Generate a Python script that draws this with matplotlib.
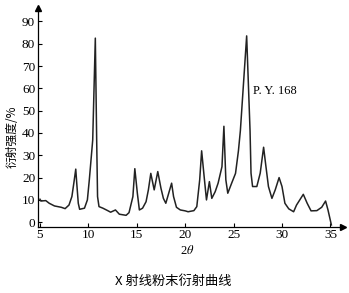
import matplotlib
matplotlib.use('Agg')
import matplotlib.pyplot as plt

# X-ray powder diffraction curve, P.Y. 168
two_theta = [5.0, 5.1, 5.6, 5.96, 6.5, 7.2, 7.6, 8.0, 8.3, 8.5, 8.7, 8.8, 8.96,
             9.1, 9.6, 9.9, 10.1, 10.45, 10.72, 10.86, 10.95, 11.1, 11.5, 12.0,
             12.3, 12.8, 13.2, 13.9, 14.2, 14.6, 14.8, 15.06, 15.27, 15.6, 15.96,
             16.2, 16.45, 16.8, 17.17, 17.5, 17.75, 18.0, 18.3, 18.6, 18.8, 19.1,
             19.5, 20.0, 20.3, 20.9, 21.2, 21.5, 21.7, 21.96, 22.2, 22.5, 22.75,
             23.1, 23.4, 23.8, 24.0, 24.2, 24.4, 24.8, 25.2, 25.5, 25.7, 26.35,
             26.7, 26.8, 26.96, 27.4, 27.75, 28.1, 28.3, 28.6, 28.96, 29.3, 29.7,
             30.0, 30.3, 30.7, 31.2, 31.5, 32.2, 32.6, 33.0, 33.6, 34.1, 34.5,
             34.75, 35.1]
intensity = [10.3, 9.5, 9.7, 8.5, 7.3, 6.7, 6.1, 7.7, 11.5, 17.5, 23.8, 17.6, 8.5,
             5.8, 6.3, 10.0, 19.0, 36.8, 82.5, 36.8, 11.5, 7.0, 6.3, 5.2,
             4.5, 5.5, 3.6, 3.1, 4.3, 11.5, 24.0, 13.0, 5.5, 6.3, 9.2,
             14.5, 21.9, 14.5, 22.7, 15.2, 10.7, 8.5, 13.0, 17.5, 11.5, 6.7,
             5.5, 5.1, 4.7, 5.2, 7.0, 19.0, 32.0, 20.4, 10.0, 18.2, 10.7,
             13.7, 17.5, 24.9, 43.0, 19.0, 13.0, 17.5, 21.9, 32.0, 41.0, 83.5,
             41.0, 22.0, 16.0, 16.0, 22.0, 33.6, 26.4, 16.0, 10.7, 14.5, 20.0,
             16.0, 8.5, 6.0, 4.7, 7.7, 12.5, 8.5, 5.1, 5.2, 6.7, 9.5,
             5.5, -1.2]

x_ticks = [5, 10, 15, 20, 25, 30, 35]
y_ticks = [0, 10, 20, 30, 40, 50, 60, 70, 80, 90]

plt.rcParams['mathtext.fontset'] = 'stix'
serif = 'Liberation Serif'
cjk = ['Noto Sans CJK SC', 'DejaVu Sans']

fig = plt.figure(figsize=(3.49, 2.93), dpi=100)
ax = fig.add_axes([38 / 349, 1 - 226.7 / 293, (343 - 38) / 349, (226.7 - 8) / 293])

ax.plot(two_theta, intensity, color='#222222', lw=1.1)

ax.set_xlim(4.8, 36.3)
ax.set_ylim(-2, 96)
ax.set_xticks(x_ticks)
ax.set_yticks(y_ticks)
ax.tick_params(direction='in', length=3, width=0.8, labelsize=9.5, pad=2)
for lab in ax.get_xticklabels() + ax.get_yticklabels():
    lab.set_fontfamily(serif)

for s in ['top', 'right']:
    ax.spines[s].set_visible(False)
for s in ['left', 'bottom']:
    ax.spines[s].set_linewidth(0.9)

# axis arrows
ax.plot(1, 0, '>k', ms=4, transform=ax.transAxes, clip_on=False)
ax.plot(0, 1, '^k', ms=4, transform=ax.transAxes, clip_on=False)

ax.text(27.0, 58.8, 'P. Y. 168', fontsize=9, family=serif, va='center', ha='left')

fig.text(187 / 349, 1 - 250 / 293, '2$\\theta$', fontsize=9, family=serif,
         ha='center', va='center')
fig.text(12 / 349, 1 - 137 / 293, '衍射强度/%', fontsize=8.5, family=cjk,
         rotation=90, ha='center', va='center')
fig.text(173 / 349, 1 - 281 / 293, 'X 射线粉末衍射曲线', fontsize=9.5, family=cjk,
         ha='center', va='center')

fig.savefig('out.png', dpi=100)
plt.close()
